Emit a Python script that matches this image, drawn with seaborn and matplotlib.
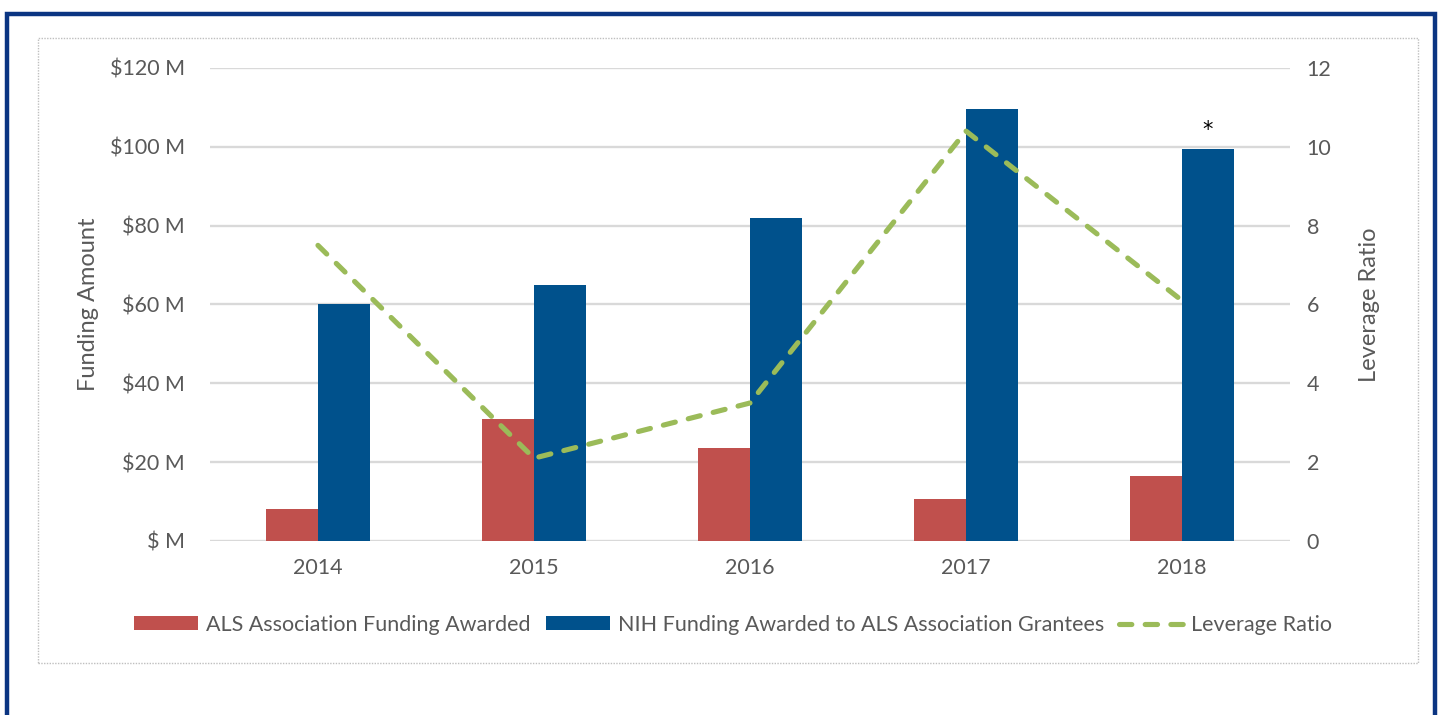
import numpy as np
import pandas as pd
import matplotlib.pyplot as plt
import seaborn as sns
from matplotlib.patches import Rectangle
from matplotlib.lines import Line2D

years = ["2014", "2015", "2016", "2017", "2018"]
als_funding = [8.0, 31.0, 23.6, 10.6, 16.5]       # $ M
nih_funding = [60.0, 65.0, 82.0, 109.5, 99.5]     # $ M
leverage = [7.5, 2.1, 3.5, 10.4, 6.1]

als_label = "ALS Association Funding Awarded"
nih_label = "NIH Funding Awarded to ALS Association Grantees"
lev_label = "Leverage Ratio"

red = "#C0504D"
blue = "#00518C"
green = "#9BBB59"
grey_txt = "#595959"
dash = (0, (2.4, 2.6))

sns.set_style("white")
plt.rcParams["font.family"] = ["Lato", "DejaVu Sans"]

df = pd.DataFrame({
    "Year": years * 2,
    "Funding": als_funding + nih_funding,
    "Series": [als_label] * len(years) + [nih_label] * len(years),
})

fig = plt.figure(figsize=(14.4, 7.15), dpi=100)
ax = fig.add_axes([0.1458, 0.2434, 0.75, 0.6615])

sns.barplot(data=df, x="Year", y="Funding", hue="Series", order=years,
            hue_order=[als_label, nih_label], palette=[red, blue],
            width=0.48, saturation=1, linewidth=0, ax=ax, zorder=2)
handles, labels = ax.get_legend_handles_labels()
if ax.legend_ is not None:
    ax.legend_.remove()

ax.set_ylim(0, 120)
ax.set_xlim(-0.5, len(years) - 0.5)
ax.set_yticks(np.arange(0, 121, 20))
ax.set_yticklabels([("$ M" if v == 0 else f"${v} M") for v in range(0, 121, 20)])
ax.yaxis.grid(True, color="#D9D9D9", linewidth=1.7, zorder=0)
ax.set_axisbelow(True)
for s in ax.spines.values():
    s.set_visible(False)
ax.tick_params(axis="both", length=0, labelsize=15.5, colors=grey_txt, pad=18)
ax.tick_params(axis="x", pad=12)
ax.set_xlabel("")
ax.set_ylabel("Funding Amount", fontsize=17, color=grey_txt, labelpad=8)

# leverage ratio line on secondary axis
ax2 = ax.twinx()
sns.lineplot(x=np.arange(len(years)), y=leverage, ax=ax2, color=green,
             linewidth=3.7, linestyle=dash, dash_capstyle="round", legend=False)
ax2.set_ylim(0, 12)
ax2.set_yticks(np.arange(0, 13, 2))
for s in ax2.spines.values():
    s.set_visible(False)
ax2.tick_params(axis="y", length=0, labelsize=15.5, colors=grey_txt, pad=12)
ax2.set_ylabel("Leverage Ratio", fontsize=17, color=grey_txt, labelpad=20)
ax2.grid(False)

# asterisk above 2018 NIH bar
bar = ax.containers[1][len(years) - 1]
ax.annotate("*", xy=(bar.get_x() + bar.get_width() / 2, bar.get_height()),
            xytext=(0, 6), textcoords="offset points", ha="center", va="bottom",
            fontsize=15, color="black", family="DejaVu Sans")

line_handle = Line2D([], [], color=green, linewidth=3.7, linestyle=dash,
                     dash_capstyle="round")
fig.legend(handles + [line_handle], labels + [lev_label],
           loc="center", bbox_to_anchor=(0.509, 0.126), ncol=3, frameon=False,
           fontsize=15.5, labelcolor=grey_txt, handlelength=3.0, handleheight=0.6,
           handletextpad=0.35, columnspacing=0.7)

# chart area dotted frame and outer navy frame
fig.patches.append(Rectangle((38 / 1440, 1 - 663 / 715), (1418 - 38) / 1440, (663 - 38) / 715,
                             transform=fig.transFigure, fill=False, edgecolor="#BFBFBF",
                             linewidth=1.0, linestyle=(0, (1, 1))))
fig.patches.append(Rectangle((7 / 1440, -0.05), (1435 - 7) / 1440, 1 - 14 / 715 + 0.05,
                             transform=fig.transFigure, fill=False, edgecolor="#0B3582",
                             linewidth=3.2))

fig.savefig("out.png", dpi=100)
